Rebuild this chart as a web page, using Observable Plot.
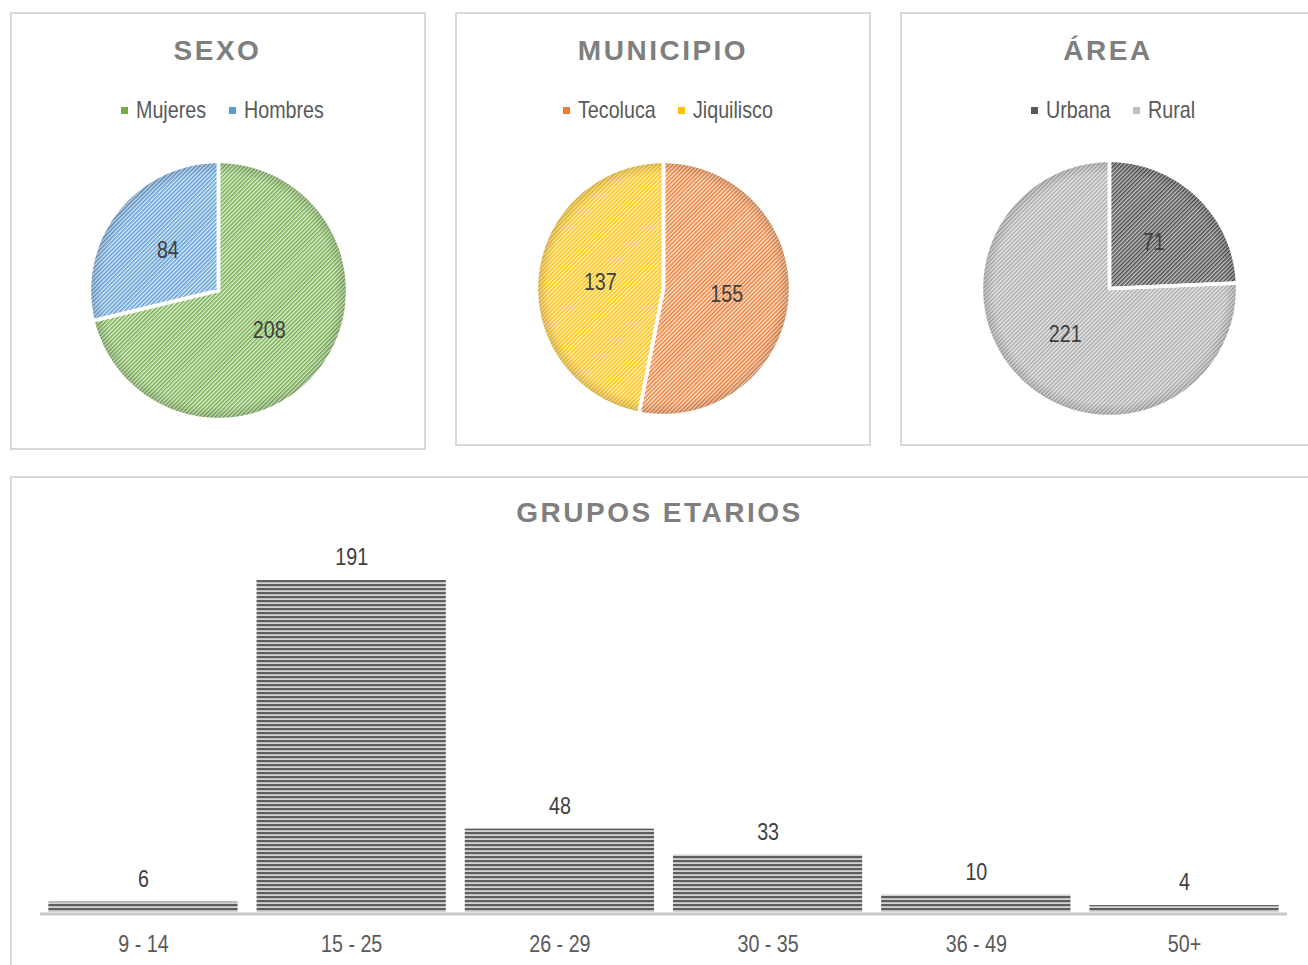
<!DOCTYPE html>
<html>
<head>
<meta charset="utf-8">
<script src="https://cdn.jsdelivr.net/npm/d3@7"></script>
<script src="https://cdn.jsdelivr.net/npm/@observablehq/plot@0.6"></script>
<style>
  html, body { margin: 0; padding: 0; background: #fff; }
  body { width: 1308px; height: 965px; overflow: hidden; position: relative; }
  .panel { position: absolute; border: 2px solid #d9d9d9; box-sizing: border-box; }
  .title { position: absolute; text-align: center; font-family: "Liberation Sans", Arial, sans-serif;
           font-weight: bold; color: #7f7f7f; font-size: 28px; line-height: 28px; letter-spacing: 2.5px; }
  .legend { position: absolute; display: flex; justify-content: center; align-items: center; gap: 23px;
            color: #595959; font-size: 24px; line-height: 24px; height: 24px; }
  .legend .item { display: flex; align-items: center; }
  .legend .sw { width: 7px; height: 7px; margin-right: 8px; display: inline-block; }
  .legend .lt { display: inline-block; white-space: nowrap; overflow: visible; }
  .legend .lt span { display: inline-block; transform-origin: 0 50%; }
  .chart { position: absolute; }
</style>
</head>
<body>
<svg id="defs" width="0" height="0" style="position:absolute;left:0;top:0"><defs></defs></svg>
<script>
// ---------------- data ----------------
const sexoCategories = ["Mujeres", "Hombres"];
const sexoValues = [208, 84];
const municipioCategories = ["Tecoluca", "Jiquilisco"];
const municipioValues = [155, 137];
const areaCategories = ["Urbana", "Rural"];
const areaValues = [71, 221];
const ageGroups = ["9 - 14", "15 - 25", "26 - 29", "30 - 35", "36 - 49", "50+"];
const ageCounts = [6, 191, 48, 33, 10, 4];
const panelTitles = ["SEXO", "MUNICIPIO", "ÁREA", "GRUPOS ETARIOS"];

// ---------------- styles ----------------
const diagPatterns = [
  {id: "p-green",  fg: "#70ad47", bg: "#e3f0db"},
  {id: "p-blue",   fg: "#5b9bd5", bg: "#deebf7"},
  {id: "p-orange", fg: "#ed7d31", bg: "#fbe5d6"},
  {id: "p-yellow", fg: "#ffc000", bg: "#fff2cc"},
  {id: "p-dark",   fg: "#4a4a4a", bg: "#c4c4c4"},
  {id: "p-light",  fg: "#a6a6a6", bg: "#ededed"}
];
const FS = 24;

// font detection: narrow font if available, else squeeze regular font
const NARROW_OK = (() => {
  const c = document.createElement("canvas").getContext("2d");
  c.font = '100px "Liberation Sans Narrow", monospace';
  const a = c.measureText("Mujeres Hombres 123").width;
  c.font = '100px monospace';
  const b = c.measureText("Mujeres Hombres 123").width;
  return Math.abs(a - b) > 0.5;
})();
const FONT = NARROW_OK ? '"Liberation Sans Narrow", "Arial Narrow", sans-serif' : '"Liberation Sans", Arial, sans-serif';
const SQUEEZE = NARROW_OK ? 1 : 0.82;

// ---------------- pattern defs ----------------
const defs = d3.select("#defs defs");
for (const p of diagPatterns) {
  const pat = defs.append("pattern").attr("id", p.id).attr("patternUnits", "userSpaceOnUse")
    .attr("width", 2.9).attr("height", 6).attr("patternTransform", "rotate(45)");
  pat.append("rect").attr("width", 2.9).attr("height", 6).attr("fill", p.bg);
  pat.append("rect").attr("width", 1.45).attr("height", 6).attr("fill", p.fg);
}
{
  const pat = defs.append("pattern").attr("id", "p-hstripe").attr("patternUnits", "userSpaceOnUse")
    .attr("width", 8).attr("height", 4);
  pat.append("rect").attr("width", 8).attr("height", 4).attr("fill", "#d4d4d4");
  pat.append("rect").attr("width", 8).attr("height", 2.2).attr("fill", "#5e5e5e");
  const g = defs.append("radialGradient").attr("id", "pieShade").attr("cx", 0.5).attr("cy", 0.5).attr("r", 0.5);
  g.append("stop").attr("offset", 0).attr("stop-color", "#000").attr("stop-opacity", 0);
  g.append("stop").attr("offset", 0.9).attr("stop-color", "#000").attr("stop-opacity", 0);
  g.append("stop").attr("offset", 1).attr("stop-color", "#000").attr("stop-opacity", 0.16);
}

function squeezeSvg(svg) {
  if (SQUEEZE === 1) return;
  svg.querySelectorAll("text").forEach(t => {
    const L = t.getComputedTextLength();
    if (L > 0) { t.setAttribute("textLength", L * SQUEEZE); t.setAttribute("lengthAdjust", "spacingAndGlyphs"); }
  });
}

function place(el, left, top) {
  el.classList.add("chart");
  el.style.left = left + "px";
  el.style.top = top + "px";
  document.body.appendChild(el);
  squeezeSvg(el);
}

// ---------------- panels ----------------
function panel(left, top, width, height) {
  const d = document.createElement("div");
  d.className = "panel";
  Object.assign(d.style, {left: left + "px", top: top + "px", width: width + "px", height: height + "px"});
  document.body.appendChild(d);
}
function title(text, left, width, top) {
  const d = document.createElement("div");
  d.className = "title";
  d.textContent = text;
  Object.assign(d.style, {left: left + "px", width: width + "px", top: top + "px"});
  document.body.appendChild(d);
}
function legend(cats, colors, left, width, top) {
  const d = document.createElement("div");
  d.className = "legend";
  Object.assign(d.style, {left: left + "px", width: width + "px", top: top + "px", fontFamily: FONT});
  const c = document.createElement("canvas").getContext("2d");
  c.font = `${FS}px ${FONT}`;
  cats.forEach((cat, i) => {
    const it = document.createElement("span"); it.className = "item";
    const sw = document.createElement("span"); sw.className = "sw"; sw.style.background = colors[i];
    const lt = document.createElement("span"); lt.className = "lt";
    const inner = document.createElement("span"); inner.textContent = cat;
    inner.style.transform = `scaleX(${SQUEEZE})`;
    lt.style.width = (c.measureText(cat).width * SQUEEZE) + "px";
    lt.appendChild(inner);
    it.appendChild(sw); it.appendChild(lt);
    d.appendChild(it);
  });
  document.body.appendChild(d);
}

// ---------------- pies ----------------
function piePlot(values, patternIds, radius) {
  const S = 150, R = S / radius;
  const arcs = d3.pie().sort(null).value(d => d)(values);
  const outline = [];
  arcs.forEach((a, i) => {
    outline.push({k: i, x: 0, y: 0});
    const n = Math.max(2, Math.ceil((a.endAngle - a.startAngle) / 0.01));
    for (let j = 0; j <= n; ++j) {
      const t = a.startAngle + (a.endAngle - a.startAngle) * j / n;
      outline.push({k: i, x: Math.sin(t), y: Math.cos(t)});
    }
    outline.push({k: i, x: 0, y: 0});
  });
  const labels = arcs.map(a => {
    const m = (a.startAngle + a.endAngle) / 2;
    return {x: 0.5 * Math.sin(m), y: 0.5 * Math.cos(m), text: String(a.data)};
  });
  return Plot.plot({
    width: 2 * S, height: 2 * S, margin: 0,
    x: {domain: [-R, R], axis: null},
    y: {domain: [-R, R], axis: null},
    style: {fontFamily: FONT, fontSize: FS + "px", background: "transparent", overflow: "visible"},
    marks: [
      ...arcs.map((a, i) => Plot.line(outline.filter(p => p.k === i),
        {x: "x", y: "y", fill: `url(#${patternIds[i]})`, stroke: "none"})),
      Plot.dot([0], {x: 0, y: 0, r: radius, fill: "url(#pieShade)", stroke: "none"}),
      Plot.line(outline, {x: "x", y: "y", z: "k", stroke: "white", strokeWidth: 3.5, strokeLinejoin: "miter"}),
      Plot.text(labels, {x: "x", y: "y", text: "text", fontSize: FS, fill: "#404040"})
    ]
  });
}

// top panels
panel(9.5, 11.5, 416, 438);
panel(455, 11.5, 416, 434);
panel(900, 11.5, 416, 434);
title(panelTitles[0], 9.5, 416, 37);
title(panelTitles[1], 455, 416, 37);
title(panelTitles[2], 900, 416, 37);
legend(sexoCategories, ["#70ad47", "#5b9bd5"], 19.5, 406, 98);
legend(municipioCategories, ["#ed7d31", "#ffc000"], 465, 406, 98);
legend(areaCategories, ["#595959", "#bfbfbf"], 910, 406, 98);

place(piePlot(sexoValues, ["p-green", "p-blue"], 129), 218 - 150, 290 - 150);
place(piePlot(municipioValues, ["p-orange", "p-yellow"], 127), 663 - 150, 287.5 - 150);
place(piePlot(areaValues, ["p-dark", "p-light"], 128), 1109 - 150, 288 - 150);

// ---------------- bars ----------------
panel(9.5, 475.5, 1300, 520);
title(panelTitles[3], 9.5, 1300, 499);

const ageData = ageGroups.map((g, i) => ({group: g, count: ageCounts[i]}));
const pxPerUnit = 1.738;
const barPlot = Plot.plot({
  width: 1308, height: 489,
  marginLeft: 40, marginRight: 21, marginTop: 436 - 200 * pxPerUnit, marginBottom: 53,
  x: {domain: ageGroups, paddingInner: 0.091, paddingOuter: 0.04, round: false},
  y: {domain: [0, 200], axis: null},
  style: {fontFamily: FONT, fontSize: FS + "px", color: "#595959", background: "transparent", overflow: "visible"},
  marks: [
    Plot.barY(ageData, {x: "group", y: "count", fill: "url(#p-hstripe)"}),
    Plot.ruleY([0], {stroke: "#c8c8c8", strokeWidth: 3, dy: 1.5}),
    Plot.text(ageData, {x: "group", y: "count", text: d => String(d.count), dy: -23, fill: "#404040", fontSize: FS}),
    Plot.axisX({tickSize: 0, tickPadding: 22, fontSize: FS, fill: "#595959", label: null})
  ]
});
place(barPlot, 0, 476);
</script>
</body>
</html>
